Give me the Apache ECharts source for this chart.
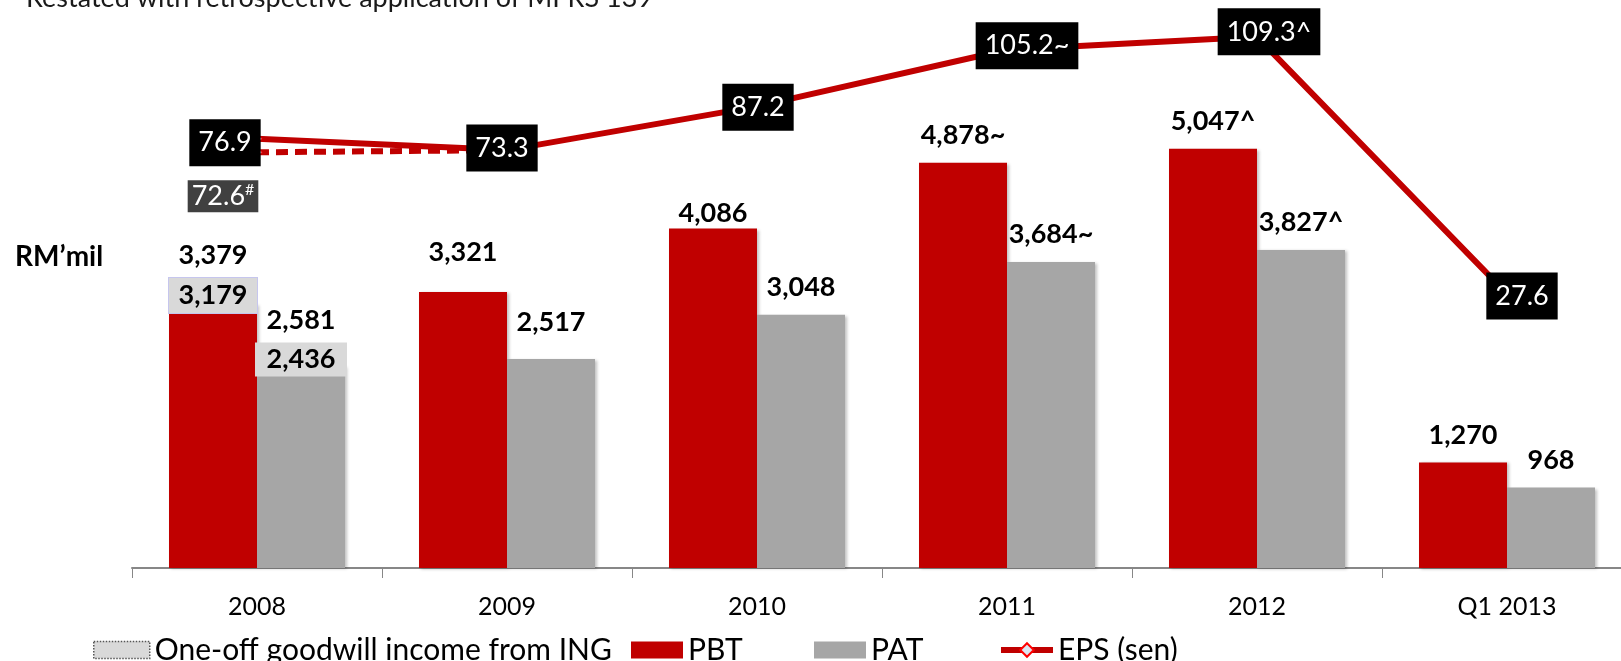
<!DOCTYPE html>
<html>
<head>
<meta charset="utf-8">
<script src="https://cdn.jsdelivr.net/npm/echarts@6/dist/echarts.min.js"></script>
<style>
html, body { margin: 0; padding: 0; background: #fff; }
#chart { width: 1621px; height: 661px; }
</style>
</head>
<body>
<div id="chart"></div>
<script>
// ---- data ----
var categories = ['2008', '2009', '2010', '2011', '2012', 'Q1 2013'];
var pbt = [3379, 3321, 4086, 4878, 5047, 1270];
var pat = [2581, 2517, 3048, 3684, 3827, 968];
var goodwillPbt = [200, 0, 0, 0, 0, 0];   // 3,379 - 3,179
var goodwillPat = [145, 0, 0, 0, 0, 0];   // 2,581 - 2,436
var pbtNotes = ['', '', '', '~', '^', ''];
var patNotes = ['', '', '', '~', '^', ''];
var eps = [76.9, 73.3, 87.2, 105.2, 109.3, 27.6];
var epsNotes = ['', '', '', '~', '^', ''];
var epsRestated = [72.6, 73.3];           // 2008 restated (#) joined to 2009

var GW = 'One-off goodwill income from ING';
var FONT = 'Lato, "Open Sans", sans-serif';
var RED = '#c00000', GREY = '#a6a6a6', LIGHT = '#d9d9d9';

// label nudges (px), layout only
var pbtShift = [-4, -12, 12, 0, 0, 0];
var patShift = [-6, -9, 0, 0, 0, 0];
var epsOffset = [[-32, 4], [-5, -2], [1, 1], [20, -4], [12, -5], [15, 2]];

function fmt(v) { return v.toLocaleString('en-US'); }

var valueLabel = {
    show: true, position: 'top', distance: 14,
    fontFamily: FONT, fontSize: 27, fontWeight: 'bold', color: '#000'
};

function boxLabel(w, h, dist, border) {
    return {
        show: true, position: 'top', distance: dist,
        width: w, height: h, lineHeight: h, align: 'center',
        backgroundColor: LIGHT, borderColor: border, borderWidth: 1,
        fontFamily: FONT, fontSize: 27, fontWeight: 'bold', color: '#000'
    };
}

function baseData(totals, extra, notes, shift, box) {
    return totals.map(function (v, i) {
        var base = v - extra[i];
        if (extra[i] > 0) {
            return { value: base, label: Object.assign(box, { formatter: fmt(base) }) };
        }
        return {
            value: base,
            label: Object.assign({}, valueLabel, { offset: [0, shift[i]], formatter: fmt(v) + notes[i] })
        };
    });
}

function extraData(totals, extra, shift) {
    return extra.map(function (g, i) {
        if (!g) return '-';
        return {
            value: g,
            label: Object.assign({}, valueLabel, { offset: [0, shift[i]], formatter: fmt(totals[i]) })
        };
    });
}

var epsBox = {
    show: true, position: 'inside',
    backgroundColor: '#000', color: '#fff', padding: [10, 9],
    fontFamily: FONT, fontSize: 27
};

var epsData = eps.map(function (v, i) {
    return {
        value: v,
        label: Object.assign({}, epsBox, { offset: epsOffset[i], formatter: v.toFixed(1) + epsNotes[i] })
    };
});

var restatedData = categories.map(function (c, i) {
    if (i >= epsRestated.length) return '-';
    if (i === 0) {
        return {
            value: epsRestated[i],
            label: {
                show: true, position: 'inside', offset: [-34, 44],
                backgroundColor: '#404040', padding: [2, 4],
                formatter: '{a|' + epsRestated[i].toFixed(1) + '}{s|#}',
                rich: {
                    a: { fontFamily: FONT, fontSize: 27, color: '#fff', lineHeight: 28 },
                    s: { fontFamily: FONT, fontSize: 16, color: '#fff', verticalAlign: 'top', lineHeight: 28 }
                }
            }
        };
    }
    return epsRestated[i];
});

var legendBase = {
    top: 635, padding: 0, itemGap: 0, itemWidth: 56, itemHeight: 17,
    textStyle: { fontFamily: FONT, fontSize: 30, color: '#000' }
};

var chart = echarts.init(document.getElementById('chart'));
var option = {
    animation: false,
    backgroundColor: '#fff',
    grid: { left: 132, top: 28, width: 1500, height: 540, outerBoundsMode: 'none' },
    graphic: [
        {
            type: 'text', left: 26, top: -15,
            style: { text: 'Restated with retrospective application of MFRS 139', font: '27px ' + FONT, fill: '#1a1a1a' }
        },
        {
            type: 'text', left: 15, top: 243,
            style: { text: 'RM\u2019mil', font: 'bold 28px ' + FONT, fill: '#000' }
        }
    ],
    legend: [
        Object.assign({}, legendBase, {
            left: 93,
            data: [{ name: GW, icon: 'rect', itemStyle: { color: LIGHT, borderColor: '#555', borderWidth: 1.5, borderType: 'dotted' } }]
        }),
        Object.assign({}, legendBase, { left: 631, itemWidth: 52, data: [{ name: 'PBT', icon: 'rect' }] }),
        Object.assign({}, legendBase, { left: 814, itemWidth: 52, data: [{ name: 'PAT', icon: 'rect' }] }),
        Object.assign({}, legendBase, {
            left: 998, itemWidth: 52,
            lineStyle: { width: 6, color: RED },
            data: ['EPS (sen)']
        })
    ],
    xAxis: {
        type: 'category',
        data: categories,
        axisLine: { lineStyle: { color: '#878787', width: 2 } },
        axisTick: { show: true, length: 10, lineStyle: { color: '#878787', width: 1 } },
        axisLabel: { margin: 26, fontFamily: FONT, fontSize: 25, color: '#000' }
    },
    yAxis: [
        { type: 'value', min: 0, max: 6500, show: false },
        { type: 'value', min: -59.5, max: 112.1, show: false }
    ],
    series: [
        {
            name: 'PBT', type: 'bar', stack: 'pbt', barWidth: 88, barGap: '0%', z: 3,
            itemStyle: { color: RED, shadowColor: 'rgba(0,0,0,0.25)', shadowBlur: 3, shadowOffsetX: 2, shadowOffsetY: 1 },
            data: baseData(pbt, goodwillPbt, pbtNotes, pbtShift, boxLabel(88, 35, -9, '#c6c6ee'))
        },
        {
            name: GW, type: 'bar', stack: 'pbt', barWidth: 88, z: 2,
            itemStyle: { color: LIGHT },
            data: extraData(pbt, goodwillPbt, pbtShift)
        },
        {
            name: 'PAT', type: 'bar', stack: 'pat', barWidth: 88, z: 3,
            itemStyle: { color: GREY, shadowColor: 'rgba(0,0,0,0.25)', shadowBlur: 3, shadowOffsetX: 2, shadowOffsetY: 1 },
            data: baseData(pat, goodwillPat, patNotes, patShift, boxLabel(90, 32, -10, LIGHT))
        },
        {
            name: GW, type: 'bar', stack: 'pat', barWidth: 88, z: 2,
            itemStyle: { color: LIGHT },
            data: extraData(pat, goodwillPat, patShift)
        },
        {
            name: 'EPS restated', type: 'line', yAxisIndex: 1, z: 4,
            symbol: 'diamond', symbolSize: 10,
            lineStyle: { color: RED, width: 6, type: [12, 7] },
            itemStyle: { color: '#dce6f2', borderColor: '#ff0000', borderWidth: 1 },
            data: restatedData
        },
        {
            name: 'EPS (sen)', type: 'line', yAxisIndex: 1, z: 5,
            symbol: 'diamond', symbolSize: 10,
            lineStyle: { color: RED, width: 6 },
            itemStyle: { color: '#dce6f2', borderColor: '#ff0000', borderWidth: 1 },
            data: epsData
        }
    ]
};
chart.setOption(option);
</script>
</body>
</html>
